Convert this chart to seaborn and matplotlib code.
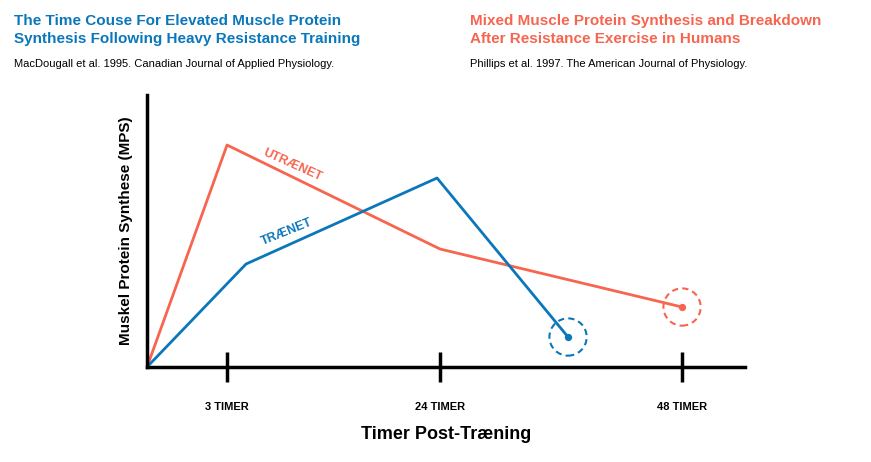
import matplotlib
matplotlib.use('Agg')
import matplotlib.pyplot as plt
import seaborn as sns
import pandas as pd

sns.set_style('white')
plt.rcParams['font.family'] = ['Liberation Sans', 'DejaVu Sans']
plt.rcParams['text.color'] = 'black'
plt.rcParams['axes.labelcolor'] = 'black'
plt.rcParams['xtick.color'] = 'black'

RED = '#F7654F'
BLUE = '#0B77BB'

# data (arbitrary units)
untrained_x = [0.0, 0.80, 2.93, 5.35]
untrained_y = [0.0, 2.22, 1.18, 0.60]
trained_x = [0.0, 0.99, 2.90, 4.21]
trained_y = [0.0, 1.03, 1.89, 0.30]
tick_pos = [0.80, 2.93, 5.35]
tick_labels = ['3 TIMER', '24 TIMER', '48 TIMER']

df = pd.concat([
    pd.DataFrame({'x': untrained_x, 'y': untrained_y, 'grp': 'UTRÆNET'}),
    pd.DataFrame({'x': trained_x, 'y': trained_y, 'grp': 'TRÆNET'}),
])

fig = plt.figure(figsize=(8.71, 4.62), dpi=100)
ax = fig.add_axes([0.1688, 0.2056, 0.6866, 0.5887])
sns.lineplot(data=df, x='x', y='y', hue='grp', palette={'UTRÆNET': RED, 'TRÆNET': BLUE},
             sort=False, estimator=None, lw=2, legend=False, ax=ax)

# end points with dashed circles
for xs, ys, c in [(untrained_x, untrained_y, RED), (trained_x, trained_y, BLUE)]:
    ax.scatter(xs[-1], ys[-1], s=18, color=c, zorder=3)
    ax.scatter(xs[-1], ys[-1], s=720, facecolor='none', edgecolor=c, lw=1.5,
               linestyle=(0, (3, 2)), zorder=3)

ax.text(1.45, 2.02, 'UTRÆNET', color=RED, fontsize=9, fontweight='bold', rotation=-24,
        ha='center', va='center')
ax.text(1.40, 1.35, 'TRÆNET', color=BLUE, fontsize=9, fontweight='bold', rotation=22,
        ha='center', va='center')

ax.set_xlim(0, 5.98)
ax.set_ylim(0, 2.72)
ax.set_xticks(tick_pos)
ax.set_xticklabels(tick_labels, fontsize=8, fontweight='bold')
ax.set_yticks([])
ax.tick_params(axis='x', bottom=True, direction='inout', length=22, width=2.5, pad=14)
for s in ['top', 'right']:
    ax.spines[s].set_visible(False)
for s in ['left', 'bottom']:
    ax.spines[s].set_linewidth(2.5)
    ax.spines[s].set_color('black')
ax.set_xlabel('Timer Post-Træning', fontsize=13, fontweight='bold', labelpad=10)
ax.set_ylabel('Muskel Protein Synthese (MPS)', fontsize=11, fontweight='bold', labelpad=10)

fig.text(0.016, 0.935, 'The Time Couse For Elevated Muscle Protein\nSynthesis Following Heavy Resistance Training',
         color=BLUE, fontsize=11, fontweight='bold', va='center', linespacing=1.3)
fig.text(0.016, 0.862, 'MacDougall et al. 1995. Canadian Journal of Applied Physiology.',
         fontsize=8, va='center')
fig.text(0.540, 0.935, 'Mixed Muscle Protein Synthesis and Breakdown\nAfter Resistance Exercise in Humans',
         color=RED, fontsize=11, fontweight='bold', va='center', linespacing=1.3)
fig.text(0.540, 0.862, 'Phillips et al. 1997. The American Journal of Physiology.',
         fontsize=8, va='center')

fig.savefig('out.png', dpi=100)
